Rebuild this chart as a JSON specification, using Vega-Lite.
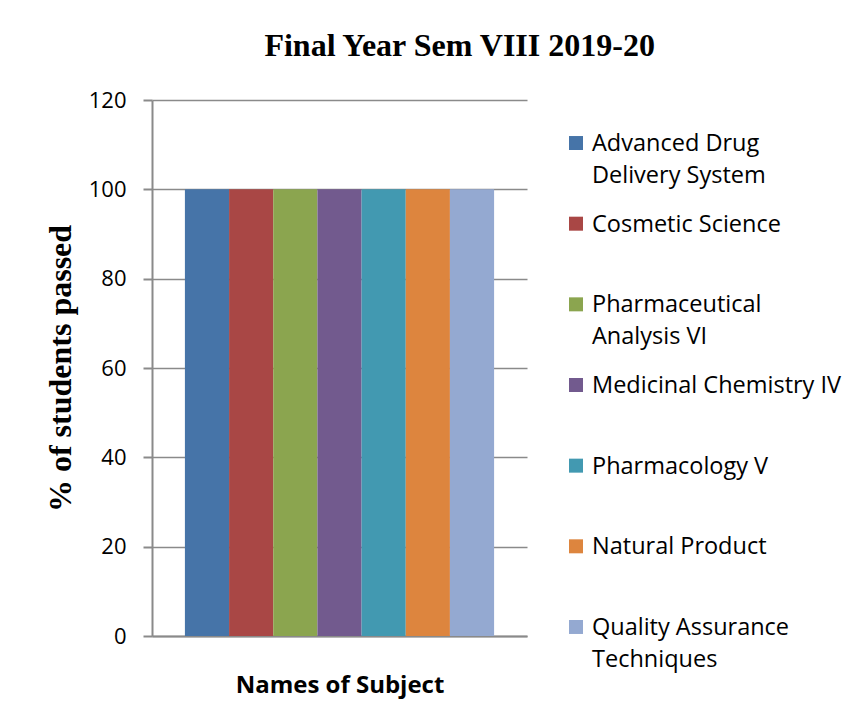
{
  "$schema": "https://vega.github.io/schema/vega-lite/v6.json",
  "padding": {"left": 44, "top": 30, "right": 5, "bottom": 10},
  "background": "white",
  "title": {
    "text": "Final Year Sem VIII 2019-20",
    "font": "Liberation Serif",
    "fontSize": 32,
    "fontWeight": "bold",
    "color": "black",
    "anchor": "middle",
    "offset": 26,
    "dx": 17
  },
  "data": {
    "values": [
      {"subject": "Advanced Drug Delivery System", "label": "Advanced Drug\nDelivery System", "pct": 100},
      {"subject": "Cosmetic Science", "label": "Cosmetic Science", "pct": 100},
      {"subject": "Pharmaceutical Analysis VI", "label": "Pharmaceutical\nAnalysis VI", "pct": 100},
      {"subject": "Medicinal Chemistry IV", "label": "Medicinal Chemistry IV", "pct": 100},
      {"subject": "Pharmacology V", "label": "Pharmacology V", "pct": 100},
      {"subject": "Natural Product", "label": "Natural Product", "pct": 100},
      {"subject": "Quality Assurance Techniques", "label": "Quality Assurance\nTechniques", "pct": 100}
    ]
  },
  "hconcat": [
    {
      "width": 375,
      "height": 536,
      "mark": {"type": "bar"},
      "encoding": {
        "x": {
          "field": "subject",
          "type": "nominal",
          "sort": null,
          "scale": {"paddingInner": 0, "paddingOuter": 0.745},
          "axis": {
            "title": "Names of Subject",
            "titleFont": "Open Sans",
            "titleFontSize": 24,
            "titleFontWeight": "bold",
            "titleColor": "black",
            "titlePadding": 37,
            "labels": false,
            "ticks": false,
            "domainColor": "#8a8a8a",
            "domainWidth": 2
          }
        },
        "y": {
          "field": "pct",
          "type": "quantitative",
          "scale": {"domain": [0, 120]},
          "axis": {
            "title": "% of students passed",
            "titleFont": "Liberation Serif",
            "titleFontSize": 32,
            "titleFontWeight": "bold",
            "titleColor": "black",
            "titlePadding": 11,
            "values": [0, 20, 40, 60, 80, 100, 120],
            "labelFont": "Open Sans",
            "labelFontSize": 22,
            "labelColor": "black",
            "labelPadding": 17,
            "tickSize": 9,
            "tickColor": "#8a8a8a",
            "tickWidth": 2,
            "domainColor": "#8a8a8a",
            "domainWidth": 2,
            "grid": true,
            "gridColor": "#8a8a8a",
            "gridWidth": 1.5
          }
        },
        "color": {
          "field": "subject",
          "type": "nominal",
          "sort": null,
          "scale": {"range": ["#4674A8", "#A94745", "#8BA54F", "#725A8E", "#4299B1", "#DD853E", "#94A9D1"]},
          "legend": null
        }
      }
    },
    {
      "width": 20,
      "height": 570,
      "layer": [
        {
          "mark": {"type": "point", "shape": "square", "filled": true, "opacity": 1, "size": 196},
          "encoding": {
            "y": {"field": "subject", "type": "nominal", "sort": null, "scale": {"padding": 0.5335}, "axis": null},
            "color": {
              "field": "subject",
              "type": "nominal",
              "sort": null,
              "scale": {"range": ["#4674A8", "#A94745", "#8BA54F", "#725A8E", "#4299B1", "#DD853E", "#94A9D1"]},
              "legend": null
            }
          }
        },
        {
          "mark": {"type": "text", "align": "left", "baseline": "alphabetic", "dx": 16, "dy": 8, "font": "Open Sans", "fontSize": 23.5, "lineBreak": "\n", "lineHeight": 32, "color": "black"},
          "encoding": {
            "y": {"field": "subject", "type": "nominal", "sort": null, "scale": {"padding": 0.5335}, "axis": null},
            "text": {"field": "label"}
          }
        }
      ]
    }
  ],
  "spacing": 39,
  "config": {"view": {"stroke": null}}
}
